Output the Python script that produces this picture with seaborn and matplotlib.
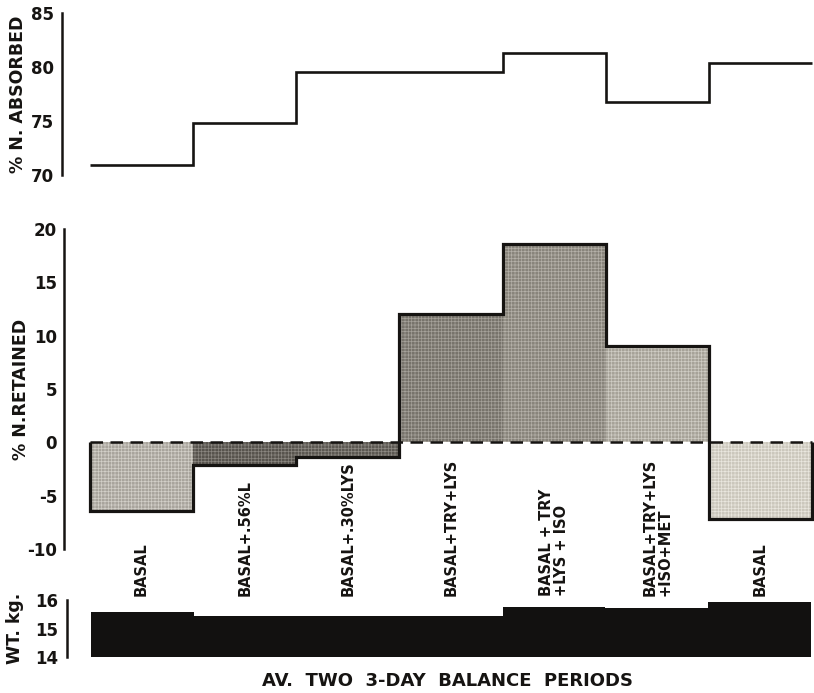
import numpy as np
import pandas as pd
import matplotlib
matplotlib.use("Agg")
import matplotlib.pyplot as plt
import seaborn as sns

# ---- data ----
period_ids = ["P1", "P2", "P3", "P4", "P5", "P6", "P7"]
period_labels = ["BASAL", "BASAL+.56%L", "BASAL+.30%LYS", "BASAL+TRY+LYS",
                 "BASAL + TRY\n+LYS + ISO", "BASAL+TRY+LYS\n+ISO+MET", "BASAL"]
absorbed = [70.9, 74.8, 79.5, 79.5, 81.3, 76.8, 80.4]        # % N absorbed
retained = [-6.45, -2.1, -1.4, 12.05, 18.6, 9.05, -7.2]      # % N retained
weight = [15.58, 15.45, 15.45, 15.45, 15.76, 15.73, 15.92]   # WT kg
absorbed_ticks = [70, 75, 80, 85]
retained_ticks = [-10, -5, 0, 5, 10, 15, 20]
weight_ticks = [14, 15, 16]
x_title = "AV.  TWO  3-DAY  BALANCE  PERIODS"

bar_colors = ["#a8a49c", "#57534d", "#5b5751", "#77736b", "#88847b", "#a6a298", "#cbc7bc"]
hatch_colors = ["#d2cfc8", "#8a8680", "#8d8983", "#a5a19a", "#b4b0a8", "#cfccc4", "#e9e6de"]

df = pd.DataFrame({"period": period_ids, "label": period_labels,
                   "absorbed": absorbed, "retained": retained, "weight": weight})

sns.set_style("white")
plt.rcParams["font.family"] = ["DejaVu Sans"]
plt.rcParams["axes.unicode_minus"] = False
plt.rcParams["hatch.linewidth"] = 0.5

W, H = 814, 693
fig = plt.figure(figsize=(W / 100, H / 100), dpi=100)
ax_top = fig.add_axes([62 / W, (H - 175) / H, 752 / W, 162 / H])
ax_mid = fig.add_axes([64 / W, (H - 549) / H, 750 / W, 320 / H])
ax_bot = fig.add_axes([67 / W, (H - 657) / H, 747 / W, 57 / H])

edges = np.arange(len(period_ids) + 1) - 0.5
ink = "#161412"

# ---- top: % N absorbed step line ----
ax_top.stairs(df["absorbed"], edges, baseline=None, color=ink, linewidth=1.9)
ax_top.set_xlim(-0.7715, 6.52)
ax_top.set_ylim(70, 85)
ax_top.set_yticks(absorbed_ticks)

# ---- middle: % N retained bars ----
pal = dict(zip(period_ids, bar_colors))
sns.barplot(data=df, x="period", y="retained", hue="period", palette=pal,
            order=period_ids, hue_order=period_ids, width=1, saturation=1,
            legend=False, ax=ax_mid, zorder=1)
for p, hc in zip([p for p in ax_mid.patches], hatch_colors):
    p.set_edgecolor(hc)
    p.set_linewidth(0)
    p.set_hatch("+++++")
ax_mid.stairs(df["retained"], edges, baseline=0, color=ink, linewidth=2.3, zorder=3)
ax_mid.hlines(0, edges[0], edges[-1], colors=ink, linestyles=(0, (5, 3)),
              linewidth=1.8, zorder=4)
ax_mid.set_xlim(-0.752, 6.52)
ax_mid.set_ylim(-10, 20)
ax_mid.set_yticks(retained_ticks)
for i, lab in enumerate(period_labels):
    ax_mid.text(i, -14.4, lab, rotation=90, ha="center", va="bottom",
                multialignment="left", fontsize=10.5, fontweight="bold",
                color=ink, clip_on=False, linespacing=1.0)

# ---- bottom: weight bars ----
sns.barplot(data=df, x="period", y="weight", order=period_ids, width=1,
            color="#121110", saturation=1, ax=ax_bot)
for p in ax_bot.patches:
    p.set_linewidth(0)
ax_bot.set_xlim(-0.733, 6.527)
ax_bot.set_ylim(14, 16)
ax_bot.set_yticks(weight_ticks)

# ---- shared styling ----
for ax in (ax_top, ax_mid, ax_bot):
    for s in ("top", "right", "bottom"):
        ax.spines[s].set_visible(False)
    ax.spines["left"].set_linewidth(1.8)
    ax.spines["left"].set_color(ink)
    ax.set_xticks([])
    ax.set_xlabel("")
    ax.tick_params(axis="y", direction="in", length=10, width=1.8, color=ink,
                   labelsize=12, pad=6, labelcolor=ink)
    for t in ax.get_yticklabels():
        t.set_fontweight("bold")
    ax.set_facecolor("white")
    ax.patch.set_alpha(0)

ax_mid.tick_params(axis="y", pad=5)
ax_top.set_ylabel("% N. ABSORBED", fontsize=12.5, fontweight="bold", color=ink)
ax_top.yaxis.set_label_coords(-0.046, 0.5)
ax_mid.set_ylabel("% N.RETAINED", fontsize=12.5, fontweight="bold", color=ink)
ax_mid.yaxis.set_label_coords(-0.045, 0.5)
ax_bot.set_ylabel("WT. kg.", fontsize=12.5, fontweight="bold", color=ink)
ax_bot.yaxis.set_label_coords(-0.057, 0.5)
ax_bot.set_xlabel(x_title, fontsize=13, fontweight="bold", color=ink)
ax_bot.xaxis.set_label_coords(0.509, -0.26)

fig.savefig("out.png", dpi=100, facecolor="white")
